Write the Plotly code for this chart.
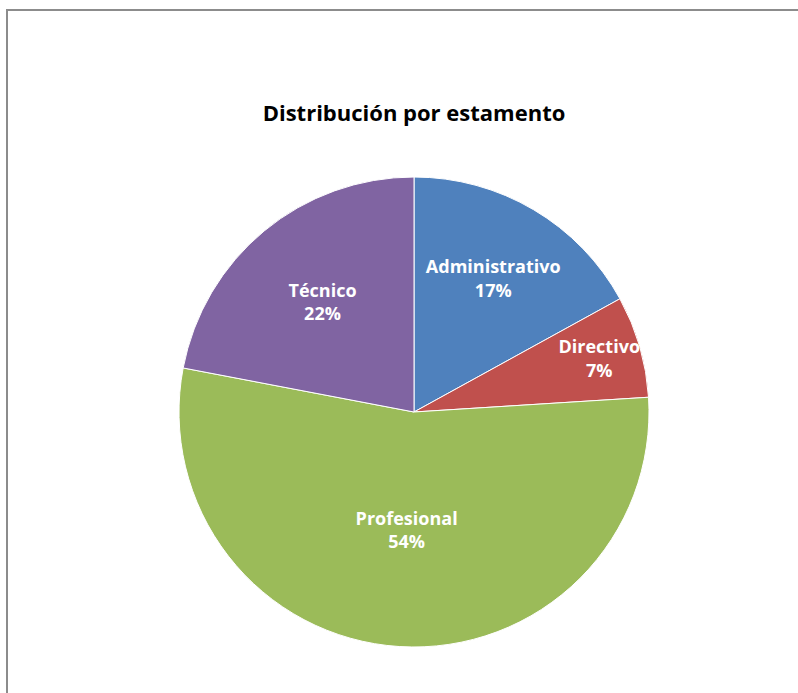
import plotly.graph_objects as go

labels = ["Administrativo", "Directivo", "Profesional", "Técnico"]
values = [17, 7, 54, 22]
colors = ["#4F81BD", "#C0504D", "#9BBB59", "#8064A2"]

W, H = 798, 693

fig = go.Figure()
fig.add_trace(go.Pie(
    labels=labels,
    values=values,
    sort=False,
    direction="clockwise",
    rotation=0,
    marker=dict(colors=colors, line=dict(color="white", width=1)),
    texttemplate="<b>%{label}</b><br><b>%{percent:.0%}</b>",
    textposition="inside",
    insidetextorientation="horizontal",
    textfont=dict(family="Open Sans", size=18, color="white"),
    showlegend=False,
    hoverinfo="label+percent",
    domain=dict(x=[179 / W, 649 / W], y=[1 - 647 / H, 1 - 177 / H]),
))

fig.update_layout(
    width=W, height=H,
    margin=dict(l=0, r=0, t=0, b=0),
    paper_bgcolor="white",
    uniformtext=dict(minsize=18, mode="show"),
    title=dict(text="<b>Distribución por estamento</b>", x=414 / W, xanchor="center",
               y=1 - 113 / H, yanchor="middle",
               font=dict(family="Open Sans", size=22, color="black")),
    shapes=[dict(type="rect", xref="paper", yref="paper",
                 x0=7 / W, x1=1.01, y0=-0.01, y1=1 - 10 / H,
                 line=dict(color="#8c8c8c", width=2))],
)

fig.write_html("out.html", config={"displayModeBar": False},
               post_script="document.body.style.margin='0';")
